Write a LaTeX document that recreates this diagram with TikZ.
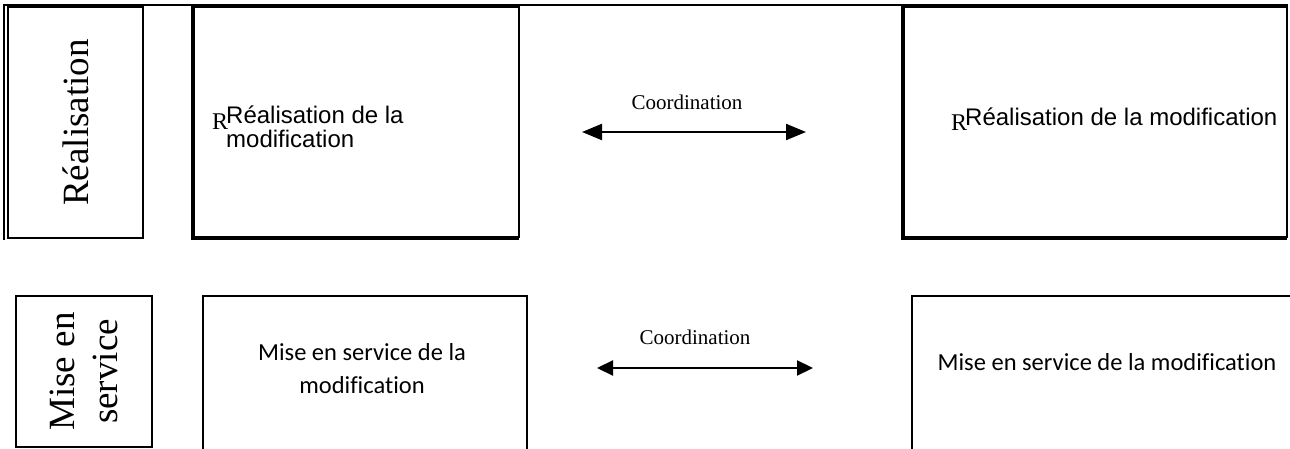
\documentclass[tikz,border=0pt]{standalone}
\usepackage{fontspec}
\newfontfamily\arialf{Liberation Sans}
\newfontfamily\timesf{Liberation Serif}
\newfontfamily\calf[Ligatures=NoCommon]{Carlito}
\usetikzlibrary{arrows.meta}
\begin{document}
\begin{tikzpicture}[x=1pt,y=-1pt,
  frame/.style={draw=black, line width=1.6pt, inner sep=0pt},
  thinframe/.style={draw=black, line width=1.1pt, inner sep=0pt},
  sidelabel/.style={rotate=90, font=\timesf\fontsize{37}{43}\selectfont, align=center, inner sep=0pt},
  arialtxt/.style={font=\arialf\fontsize{24}{24}\selectfont, inner sep=0pt, align=left},
  smallR/.style={font=\timesf\fontsize{24}{24}\selectfont, inner sep=0pt},
  caltxt/.style={font=\calf\fontsize{24.5}{33}\selectfont, inner sep=0pt, align=center},
  coordtxt/.style={font=\timesf\fontsize{21}{21}\selectfont, inner sep=0pt},
  link/.style={line width=2.2pt, {Triangle[length=20pt,width=16pt]}-{Triangle[length=20pt,width=16pt]}},
  link2/.style={line width=2.2pt, {Triangle[length=16pt,width=15pt]}-{Triangle[length=16pt,width=15pt]}},
  edge/.style={line width=2pt}
]
\useasboundingbox (0,0) rectangle (1290,449);

% top rule
\draw[edge, line width=2.5pt] (4,5) -- (1288,5);

% ---------- top row ----------
\node[frame, sidelabel, minimum width=231pt, minimum height=135pt] (labA) at (75.5,122.5) {Réalisation};
\draw[edge, line width=1.2pt] (4,4) -- (4,240);

\node[frame, minimum width=325pt, minimum height=230pt] (boxA1) at (356.5,122) {};
\draw[edge, line width=1.2pt] (192,6) -- (192,239) -- (519,239);

\node[frame, minimum width=383pt, minimum height=230pt] (boxA2) at (1095.5,122) {};
\draw[edge, line width=1.2pt] (902,6) -- (902,239) -- (1287,239);

\node[smallR, anchor=base west] (rA1) at (212,130) {R};
\node[arialtxt, anchor=base west] (tA1) at (226,148) {Réalisation de la\\modification};

\node[smallR, anchor=base west] (rA2) at (951,131) {R};
\node[arialtxt, anchor=base west] (tA2) at (965,126) {Réalisation de la modification};

\coordinate (aL) at (582,132);
\coordinate (aR) at (806,132);
\draw[link] (aL) -- (aR);
\node[coordtxt] (cA) at (687,102) {Coordination};

% ---------- bottom row ----------
\node[thinframe, sidelabel, minimum width=151pt, minimum height=136pt] (labB) at (84,371.5) {Mise en\\service};

\coordinate (b1a) at (203,449);
\coordinate (b1b) at (203,296);
\coordinate (b1c) at (527,296);
\coordinate (b1d) at (527,449);
\draw[edge] (b1a) -- (b1b) -- (b1c) -- (b1d);
\node[caltxt] (tB1) at (362,369) {Mise en service de la\\modification};

\coordinate (b2a) at (912,449);
\coordinate (b2b) at (912,296);
\coordinate (b2c) at (1290,296);
\draw[edge] (b2a) -- (b2b) -- (b2c);
\node[caltxt] (tB2) at (1107,362) {Mise en service de la modification};

\coordinate (bL) at (597,368);
\coordinate (bR) at (813,368);
\draw[link2] (bL) -- (bR);
\node[coordtxt] (cB) at (695,337) {Coordination};
\end{tikzpicture}
\end{document}
